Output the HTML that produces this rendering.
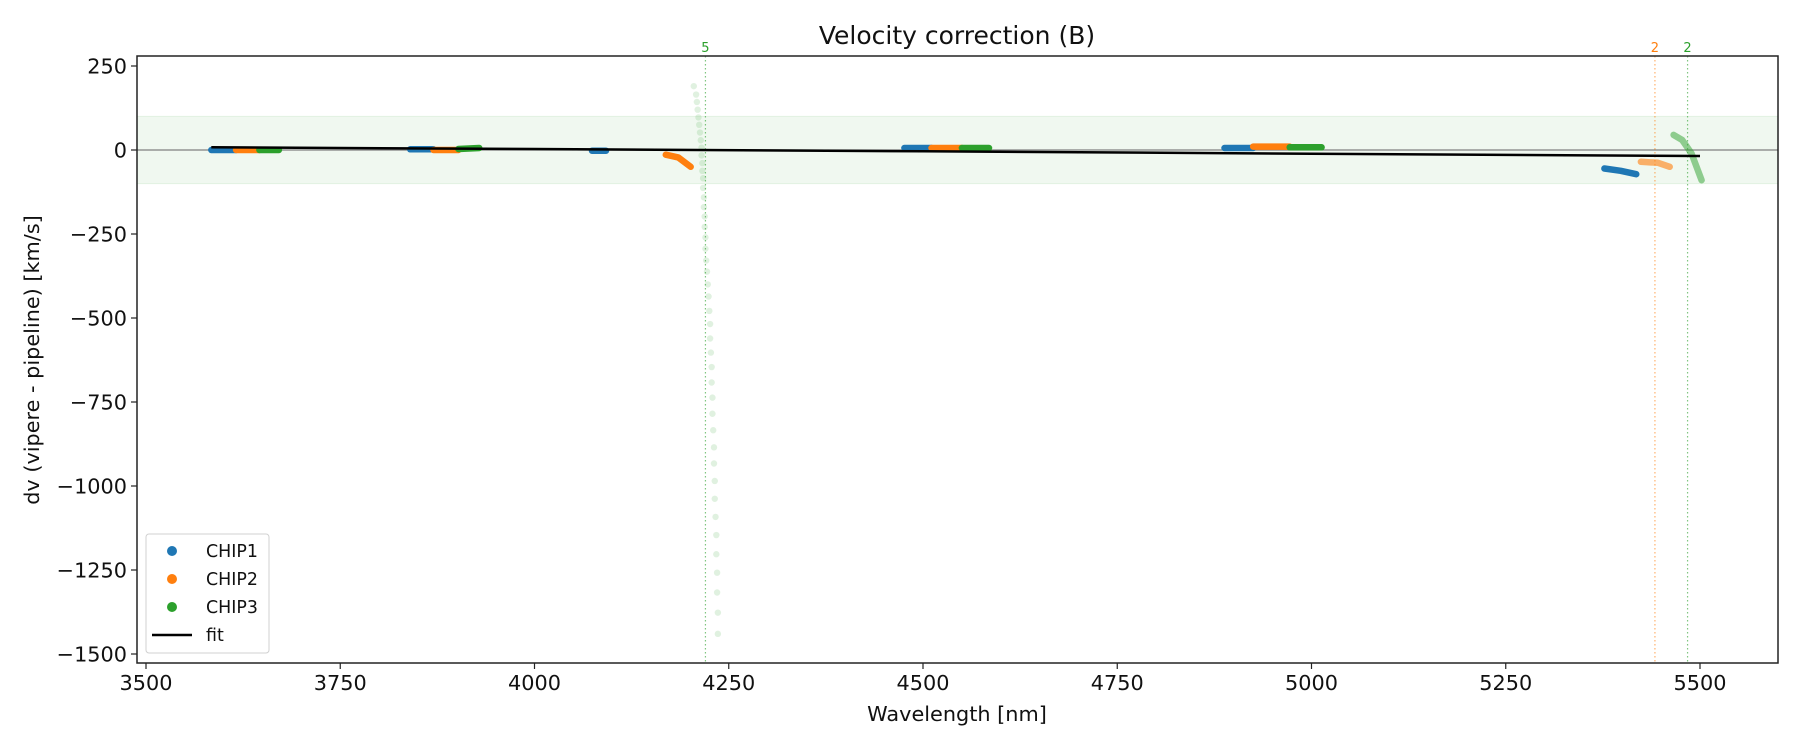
<!DOCTYPE html>
<html><head><meta charset="utf-8"><style>
body{margin:0;background:#fff;}
svg{display:block;font-family:"DejaVu Sans","Liberation Sans",sans-serif;}
</style></head><body>
<svg id="chart" width="1800" height="750" viewBox="0 0 1800 750">
<g id="plot"></g>
</svg>
<script>
// ---- data ----
const xTicks = [3500, 3750, 4000, 4250, 4500, 4750, 5000, 5250, 5500];
const yTicks = [250, 0, -250, -500, -750, -1000, -1250, -1500];
// segments: chip, wavelength samples, velocity samples, alpha
const segChip = [1,2,3, 1,2,3, 1, 2, 1,2,3, 1,2,3, 1, 2, 3];
const segWl = [
 [3584,3616],[3616,3646],[3646,3671],
 [3840,3870],[3870,3902],[3902,3929],
 [4074,4092],
 [4169,4185,4201],
 [4476,4511],[4511,4550],[4550,4585],
 [4888,4925],[4925,4972],[4972,5013],
 [5377,5398,5418],
 [5424,5446,5461],
 [5466,5477,5489,5502]
];
const segV = [
 [0,0],[0,0],[0,0],
 [2,2],[0,0],[3,6],
 [-2,-2],
 [-14,-22,-50],
 [6,6],[6,6],[6,6],
 [6,6],[10,10],[8,8],
 [-55,-62,-72],
 [-35,-38,-50],
 [45,30,-10,-90]
];
const segAlpha = [1,1,1, 1,1,1, 1, 1, 1,1,1, 1,1,1, 1, 0.6, 0.5];
// faint outlier points (CHIP3)
const outWl = [4205,4208,4209,4210,4211,4212,4213,4214,4215,4215,4216,4216,4217,4217,4218,4218,4219,4219,4220,4220,4221,4222,4223,4224,4225,4226,4226,4227,4228,4228,4229,4229,4230,4231,4231,4232,4232,4233,4234,4234,4235,4235,4236,4236];
const outV = [190,165,143,120,97,75,52,29,7,-16,-39,-62,-84,-113,-141,-170,-198,-229,-260,-294,-329,-362,-400,-436,-479,-518,-561,-603,-646,-692,-737,-785,-834,-885,-933,-985,-1038,-1092,-1146,-1203,-1258,-1317,-1377,-1440];
// fit line
const fitWl = [3584, 4000, 4500, 5000, 5500];
const fitV = [8, 3, -4, -11, -18];
// flagged wavelengths
const flagWl = [4220, 5442, 5484];
const flagLabel = ["5", "2", "2"];
const flagChip = [3, 2, 3];

// ---- axes ----
const L=137, R=1778, T=56, B=663;
const xs = v => 146 + (v-3500)*0.777;
const ys = v => 150 - v*0.336;
const colors = {1:"#1f77b4",2:"#ff7f0e",3:"#2ca02c"};
const NS="http://www.w3.org/2000/svg";
const g=document.getElementById('plot');
function mk(tag, attrs, parent){const e=document.createElementNS(NS,tag);for(const k in attrs)e.setAttribute(k,attrs[k]);(parent||g).appendChild(e);return e;}

const band = mk('rect',{x:L,y:ys(100),width:R-L,height:ys(-100)-ys(100),fill:'#2ca02c','fill-opacity':0.07,stroke:'#2ca02c','stroke-opacity':0.1});


const zl = mk('line',{x1:L,x2:R,y1:ys(0),y2:ys(0),stroke:'#808080','stroke-width':1.2});



flagWl.forEach((w,i)=>{
  const ln = mk('line',{x1:xs(w),x2:xs(w),y1:T,y2:B,stroke:colors[flagChip[i]],'stroke-width':1.2,'stroke-dasharray':'1.5 2.5','stroke-opacity':0.6});
  
  
  const t = mk('text',{x:xs(w),y:T-4,'text-anchor':'middle','font-size':13,fill:colors[flagChip[i]]});
  t.textContent=flagLabel[i];
  
  
});

outWl.forEach((w,i)=>{
  const c = mk('circle',{cx:xs(w),cy:ys(outV[i]),r:3.2,fill:'#2ca02c','fill-opacity':0.15});
  
  
});

segWl.forEach((ws,i)=>{
  const pts = ws.map((w,j)=>xs(w).toFixed(1)+','+ys(segV[i][j]).toFixed(1)).join(' ');
  const p = mk('polyline',{points:pts,fill:'none',stroke:colors[segChip[i]],'stroke-width':6.5,'stroke-linecap':'round','stroke-linejoin':'round','stroke-opacity':segAlpha[i]});
  
  
});

const fp = mk('polyline',{points:fitWl.map((w,j)=>xs(w).toFixed(1)+','+ys(fitV[j]).toFixed(1)).join(' '),fill:'none',stroke:'#000','stroke-width':2.5});



const fr = mk('rect',{x:L,y:T,width:R-L,height:B-T,fill:'none',stroke:'#222','stroke-width':1.5});



xTicks.forEach(v=>{
  mk('line',{x1:xs(v),x2:xs(v),y1:B,y2:B+6,stroke:'#222','stroke-width':1.2});
  const t=mk('text',{x:xs(v),y:B+27,'text-anchor':'middle','font-size':20.8,fill:'#111'});
  t.textContent=v;
  
  
});
yTicks.forEach(v=>{
  mk('line',{x1:L,x2:L-6,y1:ys(v),y2:ys(v),stroke:'#222','stroke-width':1.2});
  const t=mk('text',{x:L-10,y:ys(v)+7.5,'text-anchor':'end','font-size':20.8,fill:'#111'});
  t.textContent=v<0?'\u2212'+Math.abs(v):v;
  
  
});
</script>
<svg style="position:absolute;left:0;top:0" width="1800" height="750">
<text x="957" y="44" text-anchor="middle" font-size="25" fill="#111">Velocity correction (B)</text>
<text x="957" y="721" text-anchor="middle" font-size="20.8" fill="#111">Wavelength [nm]</text>
<text transform="translate(39,360) rotate(-90)" text-anchor="middle" font-size="20.8" fill="#111">dv (vipere - pipeline) [km/s]</text>
<g font-size="17.4" fill="#111">
<rect x="146" y="534" width="123" height="119" rx="3" fill="#fff" fill-opacity="0.85" stroke="#d0d0d0"/>
<circle cx="172" cy="551" r="5" fill="#1f77b4"/>
<text x="206" y="557">CHIP1</text>
<circle cx="172" cy="579" r="5" fill="#ff7f0e"/>
<text x="206" y="585">CHIP2</text>
<circle cx="172" cy="607" r="5" fill="#2ca02c"/>
<text x="206" y="613">CHIP3</text>
<line x1="152" x2="192" y1="635" y2="635" stroke="#000" stroke-width="2.5"/>
<text x="206" y="641">fit</text>
</g>
</svg>
</body></html>
